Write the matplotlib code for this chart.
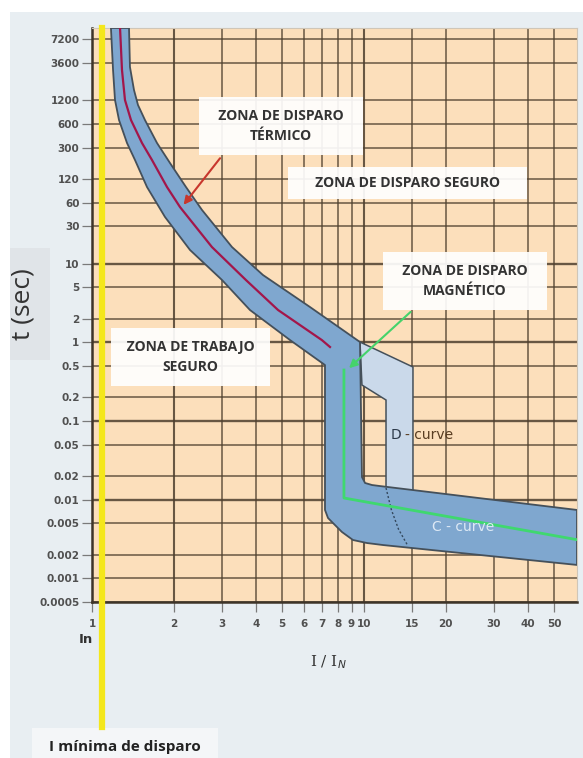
import matplotlib
matplotlib.use("Agg")
import matplotlib.pyplot as plt
from matplotlib.patches import Polygon, Rectangle
from matplotlib.ticker import NullLocator

# axis ticks
t_ticks = [7200, 3600, 1200, 600, 300, 120, 60, 30, 10, 5, 2, 1, 0.5, 0.2, 0.1,
           0.05, 0.02, 0.01, 0.005, 0.002, 0.001, 0.0005]
t_labels = ["7200", "3600", "1200", "600", "300", "120", "60", "30", "10", "5", "2",
            "1", "0.5", "0.2", "0.1", "0.05", "0.02", "0.01", "0.005", "0.002",
            "0.001", "0.0005"]
i_ticks = [1, 2, 3, 4, 5, 6, 7, 8, 9, 10, 15, 20, 30, 40, 50]
i_labels = ["1", "2", "3", "4", "5", "6", "7", "8", "9", "10", "15", "20", "30", "40", "50"]

# thermal part of the band (upper/right edge and lower/left edge)
therm_upper_i = [1.368, 1.379, 1.427, 1.476, 1.566, 1.734, 1.935, 2.216, 2.538,
                 3.271, 4.253, 6.331, 9.667]
therm_upper_t = [9930, 3170, 1616, 1042, 671, 342.5, 190.8, 94.4, 48.2,
                 16.3, 7.18, 2.815, 1.01]
therm_lower_i = [1.174, 1.195, 1.215, 1.257, 1.345, 1.439, 1.593, 1.855, 2.293,
                 3.006, 3.809, 5.345, 7.188]
therm_lower_t = [9930, 2902, 1206, 671, 342.5, 208.2, 94.4, 39.3, 14.94,
                 6.21, 2.578, 1.071, 0.515]

# magnetic part of the C band
mag_inner_i = [9.667, 9.83, 10.09, 10.70, 11.45, 60.7]
mag_inner_t = [1.01, 0.0194, 0.0163, 0.01536, 0.0149, 0.0074]
mag_outer_i = [60.7, 11.75, 10.26, 9.11, 8.30, 7.69, 7.374, 7.188, 7.188]
mag_outer_t = [0.00148, 0.00265, 0.00281, 0.00307, 0.00388, 0.00505, 0.00585, 0.0074, 0.515]

# red mid line of thermal zone
red_i = [1.268, 1.289, 1.322, 1.391, 1.527, 1.662, 1.887, 2.106, 2.76, 3.68, 4.83, 7.0, 7.5]
red_t = [9930, 2902, 1206, 671, 342.5, 208, 94.4, 52.6, 16.3, 6.21, 2.58, 1.07, 0.873]

# green C-curve line
c_i = [8.44, 8.44, 60.7]
c_t = [0.445, 0.0105, 0.0031]

# D-curve extension
d_i = [9.667, 15.14, 15.14, 12.05, 12.05, 9.83]
d_t = [1.01, 0.486, 0.012, 0.012, 0.185, 0.287]
dd_i = [12.05, 12.6, 13.4, 14.4]
dd_t = [0.0141, 0.0075, 0.0042, 0.0027]

i_min = 1.088

fig = plt.figure(figsize=(5.83, 7.58), dpi=100)
fig.patch.set_facecolor("white")
fig.patches.append(Rectangle((10 / 583, 0), 1, 746 / 758, transform=fig.transFigure,
                             fc="#e8eef2", ec="none", zorder=-10))
fig.patches.append(Rectangle((10 / 583, 398 / 758), 40 / 583, 112 / 758,
                             transform=fig.transFigure, fc="#e0e4e8", ec="none", zorder=-9))
fig.patches.append(Rectangle((32 / 583, 0), 186 / 583, 30 / 758,
                             transform=fig.transFigure, fc="#f4f6f8", ec="none", zorder=-9))

ax = fig.add_axes([92 / 583, 156 / 758, 485 / 583, 574 / 758])
ax.set_xscale("log")
ax.set_yscale("log")
ax.set_xlim(1, 60.7)
ax.set_ylim(0.0005, 9930)
ax.set_facecolor("#fcdfbb")

grid_c = "#4e3f2e"
heavy_t = [10, 1, 0.1, 0.01]
for t in t_ticks:
    ax.axhline(t, color=grid_c, lw=1.7 if t in heavy_t else 1.1, alpha=0.85, zorder=1)
for i in i_ticks:
    ax.axvline(i, color=grid_c, lw=1.5 if i in [2, 10] else 1.1, alpha=0.85, zorder=1)

ax.set_yticks(t_ticks)
ax.set_yticklabels(t_labels)
ax.set_xticks(i_ticks)
ax.set_xticklabels(i_labels)
ax.xaxis.set_minor_locator(NullLocator())
ax.yaxis.set_minor_locator(NullLocator())
ax.tick_params(direction="out", length=7, width=0.9, color="#7a7a7a",
               labelsize=7.5, labelcolor="#505050", pad=2)
ax.tick_params(axis="x", pad=5)
for lab in ax.get_xticklabels() + ax.get_yticklabels():
    lab.set_fontweight("bold")
for s in ["left", "bottom"]:
    ax.spines[s].set_color("#3e3428")
    ax.spines[s].set_linewidth(1.8)
for s in ["top", "right"]:
    ax.spines[s].set_color("#cfc6b8")
    ax.spines[s].set_linewidth(0.8)

band_c = "#7fa7cf"
edge_c = "#45505a"

# D-curve region
ax.add_patch(Polygon(list(zip(d_i, d_t)), closed=True, fc="#cad9ea", ec=edge_c,
                     lw=1.1, zorder=2))
# C band
band_i = therm_upper_i + mag_inner_i + mag_outer_i + therm_lower_i[::-1]
band_t = therm_upper_t + mag_inner_t + mag_outer_t + therm_lower_t[::-1]
ax.add_patch(Polygon(list(zip(band_i, band_t)), closed=True, fc=band_c, ec=edge_c,
                     lw=1.3, joinstyle="round", zorder=3))
ax.plot(dd_i, dd_t, color="#34495e", lw=1.0, ls=(0, (1.5, 1.5)), zorder=4)
ax.plot(red_i, red_t, color="#a3164a", lw=1.6, zorder=4, solid_joinstyle="round")
ax.plot(c_i, c_t, color="#3fd86f", lw=2.0, zorder=4)

# yellow line (minimum trip current)
ax.plot([i_min, i_min], [9930, 1.3e-5], color="#f4e71c", lw=4.5, zorder=5, clip_on=False)

box = dict(boxstyle="square,pad=0.85", fc="white", ec="none", alpha=0.92)
tfont = dict(family="Open Sans", weight="bold", color="#333333", fontsize=10,
             ha="center", va="center", linespacing=1.5, zorder=6)
ax.text(4.95, 564, "  ZONA DE DISPARO  \nTÉRMICO", bbox=box, **tfont)
ax.text(14.5, 106, "     ZONA DE DISPARO SEGURO     ",
        bbox=dict(boxstyle="square,pad=0.65", fc="white", ec="none", alpha=0.92), **tfont)
ax.text(23.5, 6.03, "  ZONA DE DISPARO  \nMAGNÉTICO", bbox=box, **tfont)
ax.text(2.3, 0.652, " ZONA DE TRABAJO \nSEGURO", bbox=box, **tfont)

ax.annotate("", xy=(2.14, 52.6), xytext=(3.0, 234), zorder=7,
            arrowprops=dict(arrowstyle="-|>", color="#c8372d", lw=1.5, mutation_scale=12))
ax.annotate("", xy=(8.66, 0.445), xytext=(15.1, 2.58), zorder=7,
            arrowprops=dict(arrowstyle="-|>", color="#45d36b", lw=1.5, mutation_scale=12))

ax.text(13.1, 0.0664, "D", color="#2d3a4a", fontsize=10, ha="center", va="center", zorder=6)
ax.text(14.15, 0.0664, "- curve", color="#5a3e22", fontsize=10, ha="left", va="center", zorder=6)
ax.text(23.1, 0.00449, "C - curve", color="#dde9f5", fontsize=10, ha="center", va="center", zorder=6)

ax.annotate("In", xy=(0.95, -0.066), xycoords=("data", "axes fraction"), ha="center",
            va="center", fontsize=9.5, fontweight="bold", color="#333333")
ax.annotate("I / I$_N$", xy=(7.37, -0.105), xycoords=("data", "axes fraction"),
            ha="center", va="center", fontsize=11, family="DejaVu Serif", color="#333333")

fig.text(23 / 583, 454 / 758, "t (sec)", rotation=90, ha="center", va="center",
         fontsize=19, family="Open Sans", color="#333333")
fig.text(125 / 583, 11 / 758, "I mínima de disparo", ha="center", va="center",
         fontsize=11, family="Open Sans", fontweight="bold", color="#222222")

fig.savefig("out.png", dpi=100)
